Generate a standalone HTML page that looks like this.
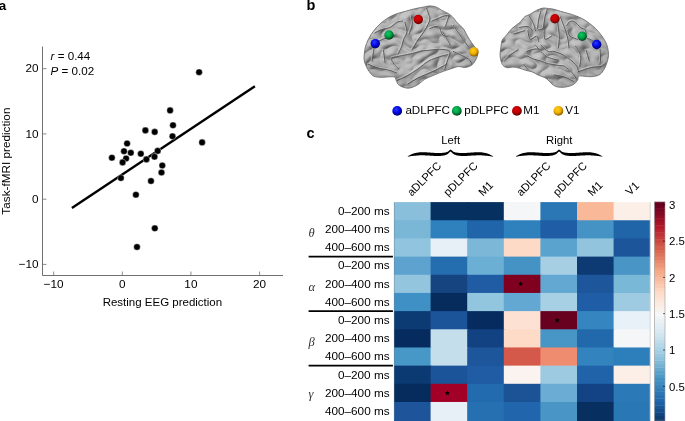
<!DOCTYPE html><html><head><meta charset="utf-8"><style>html,body{margin:0;padding:0;background:#fff;}svg{display:block;will-change:transform;}text{font-family:"Liberation Sans",sans-serif;}</style></head><body>
<svg width="685" height="421" viewBox="0 0 685 421">
<rect width="685" height="421" fill="#fff"/>
<text x="-1.2" y="9.9" font-size="13.4" font-weight="bold">a</text>
<path d="M42.5 46.5V275.5H283" fill="none" stroke="#707070" stroke-width="1"/>
<path d="M42.5 264.4H46.5" stroke="#707070" stroke-width="0.8"/>
<text x="38.6" y="268.1" font-size="11.75" text-anchor="end">−10</text>
<path d="M53.7 271.5V275.5" stroke="#707070" stroke-width="0.8"/>
<text x="53.7" y="288.4" font-size="11.75" text-anchor="middle">−10</text>
<path d="M42.5 199.2H46.5" stroke="#707070" stroke-width="0.8"/>
<text x="38.6" y="202.9" font-size="11.75" text-anchor="end">0</text>
<path d="M122.3 271.5V275.5" stroke="#707070" stroke-width="0.8"/>
<text x="122.3" y="288.4" font-size="11.75" text-anchor="middle">0</text>
<path d="M42.5 133.9H46.5" stroke="#707070" stroke-width="0.8"/>
<text x="38.6" y="137.6" font-size="11.75" text-anchor="end">10</text>
<path d="M190.9 271.5V275.5" stroke="#707070" stroke-width="0.8"/>
<text x="190.9" y="288.4" font-size="11.75" text-anchor="middle">10</text>
<path d="M42.5 68.7H46.5" stroke="#707070" stroke-width="0.8"/>
<text x="38.6" y="72.4" font-size="11.75" text-anchor="end">20</text>
<path d="M259.6 271.5V275.5" stroke="#707070" stroke-width="0.8"/>
<text x="259.6" y="288.4" font-size="11.75" text-anchor="middle">20</text>
<text x="162.4" y="305.6" font-size="11.5" text-anchor="middle">Resting EEG prediction</text>
<text transform="translate(10.1 161.1) rotate(-90)" font-size="11.75" text-anchor="middle">Task-fMRI prediction</text>
<text x="50.6" y="59.6" font-size="11.6"><tspan font-style="italic">r</tspan> = 0.44</text>
<text x="50.6" y="74.6" font-size="11.6"><tspan font-style="italic">P</tspan> = 0.02</text>
<path d="M71.9 208L254.9 86.3" stroke="#000" stroke-width="2.4"/>
<circle cx="199.1" cy="72.2" r="3.3" fill="#000" stroke="#fff" stroke-width="0.4"/>
<circle cx="170.1" cy="110.4" r="3.3" fill="#000" stroke="#fff" stroke-width="0.4"/>
<circle cx="173.0" cy="125.2" r="3.3" fill="#000" stroke="#fff" stroke-width="0.4"/>
<circle cx="172.5" cy="136.3" r="3.3" fill="#000" stroke="#fff" stroke-width="0.4"/>
<circle cx="145.4" cy="130.4" r="3.3" fill="#000" stroke="#fff" stroke-width="0.4"/>
<circle cx="154.7" cy="131.9" r="3.3" fill="#000" stroke="#fff" stroke-width="0.4"/>
<circle cx="127.1" cy="143.5" r="3.3" fill="#000" stroke="#fff" stroke-width="0.4"/>
<circle cx="124.0" cy="151.2" r="3.3" fill="#000" stroke="#fff" stroke-width="0.4"/>
<circle cx="130.8" cy="152.8" r="3.3" fill="#000" stroke="#fff" stroke-width="0.4"/>
<circle cx="140.8" cy="153.8" r="3.3" fill="#000" stroke="#fff" stroke-width="0.4"/>
<circle cx="111.9" cy="157.8" r="3.3" fill="#000" stroke="#fff" stroke-width="0.4"/>
<circle cx="126.1" cy="158.5" r="3.3" fill="#000" stroke="#fff" stroke-width="0.4"/>
<circle cx="122.6" cy="162.4" r="3.3" fill="#000" stroke="#fff" stroke-width="0.4"/>
<circle cx="146.4" cy="159.4" r="3.3" fill="#000" stroke="#fff" stroke-width="0.4"/>
<circle cx="157.7" cy="150.9" r="3.3" fill="#000" stroke="#fff" stroke-width="0.4"/>
<circle cx="154.5" cy="156.7" r="3.3" fill="#000" stroke="#fff" stroke-width="0.4"/>
<circle cx="162.3" cy="165.5" r="3.3" fill="#000" stroke="#fff" stroke-width="0.4"/>
<circle cx="161.5" cy="172.5" r="3.3" fill="#000" stroke="#fff" stroke-width="0.4"/>
<circle cx="151.0" cy="181.0" r="3.3" fill="#000" stroke="#fff" stroke-width="0.4"/>
<circle cx="120.9" cy="178.0" r="3.3" fill="#000" stroke="#fff" stroke-width="0.4"/>
<circle cx="135.9" cy="194.8" r="3.3" fill="#000" stroke="#fff" stroke-width="0.4"/>
<circle cx="154.8" cy="228.3" r="3.3" fill="#000" stroke="#fff" stroke-width="0.4"/>
<circle cx="137.0" cy="247.0" r="3.3" fill="#000" stroke="#fff" stroke-width="0.4"/>
<circle cx="202.1" cy="142.4" r="3.3" fill="#000" stroke="#fff" stroke-width="0.4"/>
<text x="306.5" y="10.2" font-size="14.5" font-weight="bold">b</text>
<defs><radialGradient id="gb" cx="0.35" cy="0.3" r="0.8"><stop offset="0" stop-color="#b4b4b4"/><stop offset="0.6" stop-color="#9c9c9c"/><stop offset="1" stop-color="#8a8a8a"/></radialGradient><radialGradient id="sB" cx="0.42" cy="0.38" r="0.62" fx="0.4" fy="0.34"><stop offset="0" stop-color="#2a3cff"/><stop offset="0.55" stop-color="#0408e6"/><stop offset="1" stop-color="#00006a"/></radialGradient><radialGradient id="sG" cx="0.42" cy="0.38" r="0.62" fx="0.4" fy="0.34"><stop offset="0" stop-color="#10c862"/><stop offset="0.55" stop-color="#00a044"/><stop offset="1" stop-color="#00401a"/></radialGradient><radialGradient id="sR" cx="0.42" cy="0.38" r="0.62" fx="0.4" fy="0.34"><stop offset="0" stop-color="#e00008"/><stop offset="0.55" stop-color="#c00000"/><stop offset="1" stop-color="#5a0000"/></radialGradient><radialGradient id="sY" cx="0.42" cy="0.38" r="0.62" fx="0.4" fy="0.34"><stop offset="0" stop-color="#ffd21a"/><stop offset="0.55" stop-color="#f0b000"/><stop offset="1" stop-color="#8a5a00"/></radialGradient></defs>
<defs><filter id="bl" x="-5%" y="-5%" width="110%" height="110%"><feGaussianBlur stdDeviation="0.4"/></filter><filter id="bl2" x="-5%" y="-5%" width="110%" height="110%"><feGaussianBlur stdDeviation="1.0"/></filter><filter id="tex" x="0" y="0" width="100%" height="100%"><feTurbulence type="turbulence" baseFrequency="0.075 0.1" numOctaves="1" seed="5" result="n"/><feDiffuseLighting in="n" surfaceScale="4" lighting-color="#bebebe" diffuseConstant="1.1" result="l"><feDistantLight azimuth="225" elevation="55"/></feDiffuseLighting><feComposite in="l" in2="SourceGraphic" operator="in"/></filter><radialGradient id="shd" cx="0.45" cy="0.4" r="0.65"><stop offset="0.6" stop-color="#000" stop-opacity="0"/><stop offset="1" stop-color="#000" stop-opacity="0.14"/></radialGradient></defs>
<clipPath id="cL"><path d="M364.1 58.9C363.9 55.8 364.5 51.2 365.2 47.9C365.9 44.6 367.0 42.2 368.4 39.3C369.8 36.4 371.8 33.3 373.8 30.7C375.8 28.1 377.7 26.0 380.2 23.8C382.7 21.6 385.8 19.1 388.7 17.4C391.6 15.7 394.4 14.6 397.3 13.6C400.2 12.6 403.2 11.9 405.9 11.2C408.6 10.4 411.3 9.6 413.3 9.1C415.3 8.6 416.1 8.5 418.0 8.1C419.9 7.7 422.4 7.3 424.4 6.9C426.4 6.5 427.8 5.9 429.8 5.9C431.8 5.9 434.2 6.3 436.2 7.0C438.1 7.7 439.5 9.1 441.5 10.2C443.5 11.3 446.2 12.3 448.0 13.4C449.8 14.5 450.6 15.0 452.2 16.6C453.8 18.2 455.6 20.9 457.6 23.1C459.6 25.3 462.4 27.4 464.0 29.6C465.6 31.8 466.1 34.0 467.4 36.1C468.6 38.2 470.3 40.6 471.5 42.5C472.7 44.4 473.8 45.5 474.8 47.2C475.8 48.9 477.3 50.8 477.6 52.5C477.9 54.2 477.5 55.7 476.8 57.5C476.1 59.3 474.9 61.7 473.6 63.2C472.4 64.7 470.9 65.7 469.3 66.4C467.7 67.1 465.8 67.4 464.0 67.4C462.2 67.4 460.4 66.3 458.6 66.4C456.8 66.5 455.2 67.4 453.3 68.0C451.4 68.6 449.2 69.3 446.9 70.1C444.6 70.9 441.9 71.8 439.4 72.8C436.9 73.8 434.4 74.9 431.9 76.0C429.4 77.1 426.7 78.0 424.4 79.4C422.1 80.8 420.4 83.2 418.0 84.6C415.6 86.0 412.5 87.4 410.1 87.9C407.7 88.4 405.6 88.0 403.7 87.4C401.8 86.9 399.6 85.8 398.4 84.6C397.1 83.4 396.8 81.5 396.2 80.3C395.6 79.1 395.7 77.8 394.6 77.2C393.5 76.6 392.0 76.8 389.8 76.8C387.6 76.8 384.0 77.4 381.3 77.3C378.6 77.2 375.8 77.1 373.8 76.2C371.8 75.3 370.8 73.5 369.5 71.9C368.2 70.3 367.2 68.6 366.3 66.4C365.4 64.2 364.3 62.0 364.1 58.9Z"/></clipPath>
<path d="M364.1 58.9C363.9 55.8 364.5 51.2 365.2 47.9C365.9 44.6 367.0 42.2 368.4 39.3C369.8 36.4 371.8 33.3 373.8 30.7C375.8 28.1 377.7 26.0 380.2 23.8C382.7 21.6 385.8 19.1 388.7 17.4C391.6 15.7 394.4 14.6 397.3 13.6C400.2 12.6 403.2 11.9 405.9 11.2C408.6 10.4 411.3 9.6 413.3 9.1C415.3 8.6 416.1 8.5 418.0 8.1C419.9 7.7 422.4 7.3 424.4 6.9C426.4 6.5 427.8 5.9 429.8 5.9C431.8 5.9 434.2 6.3 436.2 7.0C438.1 7.7 439.5 9.1 441.5 10.2C443.5 11.3 446.2 12.3 448.0 13.4C449.8 14.5 450.6 15.0 452.2 16.6C453.8 18.2 455.6 20.9 457.6 23.1C459.6 25.3 462.4 27.4 464.0 29.6C465.6 31.8 466.1 34.0 467.4 36.1C468.6 38.2 470.3 40.6 471.5 42.5C472.7 44.4 473.8 45.5 474.8 47.2C475.8 48.9 477.3 50.8 477.6 52.5C477.9 54.2 477.5 55.7 476.8 57.5C476.1 59.3 474.9 61.7 473.6 63.2C472.4 64.7 470.9 65.7 469.3 66.4C467.7 67.1 465.8 67.4 464.0 67.4C462.2 67.4 460.4 66.3 458.6 66.4C456.8 66.5 455.2 67.4 453.3 68.0C451.4 68.6 449.2 69.3 446.9 70.1C444.6 70.9 441.9 71.8 439.4 72.8C436.9 73.8 434.4 74.9 431.9 76.0C429.4 77.1 426.7 78.0 424.4 79.4C422.1 80.8 420.4 83.2 418.0 84.6C415.6 86.0 412.5 87.4 410.1 87.9C407.7 88.4 405.6 88.0 403.7 87.4C401.8 86.9 399.6 85.8 398.4 84.6C397.1 83.4 396.8 81.5 396.2 80.3C395.6 79.1 395.7 77.8 394.6 77.2C393.5 76.6 392.0 76.8 389.8 76.8C387.6 76.8 384.0 77.4 381.3 77.3C378.6 77.2 375.8 77.1 373.8 76.2C371.8 75.3 370.8 73.5 369.5 71.9C368.2 70.3 367.2 68.6 366.3 66.4C365.4 64.2 364.3 62.0 364.1 58.9Z" fill="#999" filter="url(#tex)"/>
<g clip-path="url(#cL)" filter="url(#bl2)" fill="none" stroke-linecap="round">
<path d="M392.0 57.8C393.8 57.4 399.2 56.2 402.6 55.5C406.0 54.8 409.1 54.2 412.3 53.5C415.5 52.8 419.3 51.5 422.0 51.0C424.7 50.5 425.8 50.6 428.7 50.3C431.6 50.0 436.2 49.3 439.4 49.3C442.6 49.3 446.2 49.6 448.0 50.3C449.8 51.0 449.8 53.0 450.1 53.6" stroke="#000" stroke-opacity="0.13" stroke-width="3.2" transform="translate(0.5 0.7)"/>
<path d="M390.9 58.9C391.4 59.8 392.9 62.7 394.1 64.3C395.4 65.9 397.7 67.8 398.4 68.5" stroke="#000" stroke-opacity="0.13" stroke-width="3.2" transform="translate(0.5 0.7)"/>
<path d="M397.3 80.3C398.9 79.6 403.4 77.9 406.9 76.0C410.3 74.1 414.4 71.5 418.0 69.0C421.6 66.5 425.1 63.0 428.7 61.0C432.3 59.0 436.2 57.9 439.4 56.8C442.6 55.7 446.6 55.0 448.0 54.6" stroke="#000" stroke-opacity="0.13" stroke-width="3.2" transform="translate(0.5 0.7)"/>
<path d="M408.0 84.0C409.7 83.0 413.7 80.2 418.0 78.0C422.3 75.8 429.2 73.3 434.0 71.0C438.8 68.7 444.8 65.2 446.9 64.0" stroke="#000" stroke-opacity="0.13" stroke-width="3.2" transform="translate(0.5 0.7)"/>
<path d="M368.4 64.3C370.0 64.9 374.6 67.0 378.0 68.0C381.4 69.0 385.7 69.3 388.7 70.1C391.7 70.9 394.9 72.3 396.2 72.8" stroke="#000" stroke-opacity="0.13" stroke-width="3.2" transform="translate(0.5 0.7)"/>
<path d="M373.8 49.3C373.5 51.2 372.5 59.0 372.2 61.0" stroke="#000" stroke-opacity="0.13" stroke-width="3.2" transform="translate(0.5 0.7)"/>
<path d="M383.4 50.3C383.7 52.3 384.7 60.1 385.0 62.1" stroke="#000" stroke-opacity="0.13" stroke-width="3.2" transform="translate(0.5 0.7)"/>
<path d="M374.8 33.0C376.0 32.4 379.5 30.4 382.0 29.5C384.5 28.6 387.2 28.7 389.8 27.5C392.4 26.3 395.2 23.3 397.3 22.2C399.4 21.1 401.7 21.3 402.6 21.1" stroke="#000" stroke-opacity="0.13" stroke-width="3.2" transform="translate(0.5 0.7)"/>
<path d="M404.8 22.2C405.1 23.8 407.1 29.0 406.9 31.8C406.7 34.6 404.6 36.8 403.7 39.3C402.8 41.8 402.6 44.3 401.6 46.8C400.7 49.2 398.6 52.8 398.0 54.0" stroke="#000" stroke-opacity="0.13" stroke-width="3.2" transform="translate(0.5 0.7)"/>
<path d="M426.6 8.3C426.9 9.2 428.0 12.1 428.5 14.0C429.0 15.9 430.4 17.3 429.8 20.0C429.2 22.7 427.0 26.7 425.0 30.0C423.0 33.3 420.2 36.7 418.0 40.0C415.8 43.3 413.0 48.3 412.0 50.0" stroke="#000" stroke-opacity="0.13" stroke-width="3.2" transform="translate(0.5 0.7)"/>
<path d="M431.9 21.1C433.1 20.6 437.3 18.8 439.4 17.9C441.5 17.0 443.1 16.1 444.7 15.8C446.3 15.5 448.3 15.8 449.0 15.8" stroke="#000" stroke-opacity="0.13" stroke-width="3.2" transform="translate(0.5 0.7)"/>
<path d="M449.0 15.8C448.5 17.4 446.5 23.5 445.8 25.4C445.1 27.3 444.9 26.7 444.7 27.0" stroke="#000" stroke-opacity="0.13" stroke-width="3.2" transform="translate(0.5 0.7)"/>
<path d="M429.8 28.6C431.2 28.2 436.2 25.4 438.3 26.5C440.4 27.6 441.0 33.4 442.6 35.0C444.2 36.6 447.1 35.9 448.0 36.1" stroke="#000" stroke-opacity="0.13" stroke-width="3.2" transform="translate(0.5 0.7)"/>
<path d="M453.3 25.4C454.9 27.7 460.4 35.7 462.9 39.3C465.4 42.9 467.4 45.5 468.3 46.8" stroke="#000" stroke-opacity="0.13" stroke-width="3.2" transform="translate(0.5 0.7)"/>
<path d="M442.6 31.8C443.9 33.9 448.9 42.5 450.1 44.6" stroke="#000" stroke-opacity="0.13" stroke-width="3.2" transform="translate(0.5 0.7)"/>
<path d="M450.1 53.6C449.6 55.0 447.9 59.3 447.0 62.0C446.1 64.7 445.1 68.3 444.7 69.6" stroke="#000" stroke-opacity="0.13" stroke-width="3.2" transform="translate(0.5 0.7)"/>
<path d="M453.3 51.4C455.8 52.6 465.3 56.8 468.3 58.9C471.3 61.0 471.0 63.4 471.5 64.3" stroke="#000" stroke-opacity="0.13" stroke-width="3.2" transform="translate(0.5 0.7)"/>
<path d="M377.0 42.0C378.8 41.2 385.0 38.2 388.0 37.0C391.0 35.8 393.8 35.3 395.0 35.0" stroke="#000" stroke-opacity="0.13" stroke-width="3.2" transform="translate(0.5 0.7)"/>
<path d="M411.2 15.8C411.4 17.2 412.6 21.3 412.3 24.3C412.0 27.3 409.6 32.4 409.1 34.0" stroke="#000" stroke-opacity="0.13" stroke-width="3.2" transform="translate(0.5 0.7)"/>
</g>
<g clip-path="url(#cL)" filter="url(#bl)" fill="none" stroke-linecap="round">
<path d="M392.0 57.8C393.8 57.4 399.2 56.2 402.6 55.5C406.0 54.8 409.1 54.2 412.3 53.5C415.5 52.8 419.3 51.5 422.0 51.0C424.7 50.5 425.8 50.6 428.7 50.3C431.6 50.0 436.2 49.3 439.4 49.3C442.6 49.3 446.2 49.6 448.0 50.3C449.8 51.0 449.8 53.0 450.1 53.6" stroke="#dcdcdc" stroke-opacity="0.55" stroke-width="1.5" transform="translate(-0.8 -0.9)"/>
<path d="M390.9 58.9C391.4 59.8 392.9 62.7 394.1 64.3C395.4 65.9 397.7 67.8 398.4 68.5" stroke="#dcdcdc" stroke-opacity="0.55" stroke-width="1.5" transform="translate(-0.8 -0.9)"/>
<path d="M397.3 80.3C398.9 79.6 403.4 77.9 406.9 76.0C410.3 74.1 414.4 71.5 418.0 69.0C421.6 66.5 425.1 63.0 428.7 61.0C432.3 59.0 436.2 57.9 439.4 56.8C442.6 55.7 446.6 55.0 448.0 54.6" stroke="#dcdcdc" stroke-opacity="0.55" stroke-width="1.5" transform="translate(-0.8 -0.9)"/>
<path d="M408.0 84.0C409.7 83.0 413.7 80.2 418.0 78.0C422.3 75.8 429.2 73.3 434.0 71.0C438.8 68.7 444.8 65.2 446.9 64.0" stroke="#dcdcdc" stroke-opacity="0.55" stroke-width="1.5" transform="translate(-0.8 -0.9)"/>
<path d="M368.4 64.3C370.0 64.9 374.6 67.0 378.0 68.0C381.4 69.0 385.7 69.3 388.7 70.1C391.7 70.9 394.9 72.3 396.2 72.8" stroke="#dcdcdc" stroke-opacity="0.55" stroke-width="1.5" transform="translate(-0.8 -0.9)"/>
<path d="M373.8 49.3C373.5 51.2 372.5 59.0 372.2 61.0" stroke="#dcdcdc" stroke-opacity="0.55" stroke-width="1.5" transform="translate(-0.8 -0.9)"/>
<path d="M383.4 50.3C383.7 52.3 384.7 60.1 385.0 62.1" stroke="#dcdcdc" stroke-opacity="0.55" stroke-width="1.5" transform="translate(-0.8 -0.9)"/>
<path d="M374.8 33.0C376.0 32.4 379.5 30.4 382.0 29.5C384.5 28.6 387.2 28.7 389.8 27.5C392.4 26.3 395.2 23.3 397.3 22.2C399.4 21.1 401.7 21.3 402.6 21.1" stroke="#dcdcdc" stroke-opacity="0.55" stroke-width="1.5" transform="translate(-0.8 -0.9)"/>
<path d="M404.8 22.2C405.1 23.8 407.1 29.0 406.9 31.8C406.7 34.6 404.6 36.8 403.7 39.3C402.8 41.8 402.6 44.3 401.6 46.8C400.7 49.2 398.6 52.8 398.0 54.0" stroke="#dcdcdc" stroke-opacity="0.55" stroke-width="1.5" transform="translate(-0.8 -0.9)"/>
<path d="M426.6 8.3C426.9 9.2 428.0 12.1 428.5 14.0C429.0 15.9 430.4 17.3 429.8 20.0C429.2 22.7 427.0 26.7 425.0 30.0C423.0 33.3 420.2 36.7 418.0 40.0C415.8 43.3 413.0 48.3 412.0 50.0" stroke="#dcdcdc" stroke-opacity="0.55" stroke-width="1.5" transform="translate(-0.8 -0.9)"/>
<path d="M431.9 21.1C433.1 20.6 437.3 18.8 439.4 17.9C441.5 17.0 443.1 16.1 444.7 15.8C446.3 15.5 448.3 15.8 449.0 15.8" stroke="#dcdcdc" stroke-opacity="0.55" stroke-width="1.5" transform="translate(-0.8 -0.9)"/>
<path d="M449.0 15.8C448.5 17.4 446.5 23.5 445.8 25.4C445.1 27.3 444.9 26.7 444.7 27.0" stroke="#dcdcdc" stroke-opacity="0.55" stroke-width="1.5" transform="translate(-0.8 -0.9)"/>
<path d="M429.8 28.6C431.2 28.2 436.2 25.4 438.3 26.5C440.4 27.6 441.0 33.4 442.6 35.0C444.2 36.6 447.1 35.9 448.0 36.1" stroke="#dcdcdc" stroke-opacity="0.55" stroke-width="1.5" transform="translate(-0.8 -0.9)"/>
<path d="M453.3 25.4C454.9 27.7 460.4 35.7 462.9 39.3C465.4 42.9 467.4 45.5 468.3 46.8" stroke="#dcdcdc" stroke-opacity="0.55" stroke-width="1.5" transform="translate(-0.8 -0.9)"/>
<path d="M442.6 31.8C443.9 33.9 448.9 42.5 450.1 44.6" stroke="#dcdcdc" stroke-opacity="0.55" stroke-width="1.5" transform="translate(-0.8 -0.9)"/>
<path d="M450.1 53.6C449.6 55.0 447.9 59.3 447.0 62.0C446.1 64.7 445.1 68.3 444.7 69.6" stroke="#dcdcdc" stroke-opacity="0.55" stroke-width="1.5" transform="translate(-0.8 -0.9)"/>
<path d="M453.3 51.4C455.8 52.6 465.3 56.8 468.3 58.9C471.3 61.0 471.0 63.4 471.5 64.3" stroke="#dcdcdc" stroke-opacity="0.55" stroke-width="1.5" transform="translate(-0.8 -0.9)"/>
<path d="M377.0 42.0C378.8 41.2 385.0 38.2 388.0 37.0C391.0 35.8 393.8 35.3 395.0 35.0" stroke="#dcdcdc" stroke-opacity="0.55" stroke-width="1.5" transform="translate(-0.8 -0.9)"/>
<path d="M411.2 15.8C411.4 17.2 412.6 21.3 412.3 24.3C412.0 27.3 409.6 32.4 409.1 34.0" stroke="#dcdcdc" stroke-opacity="0.55" stroke-width="1.5" transform="translate(-0.8 -0.9)"/>
<path d="M392.0 57.8C393.8 57.4 399.2 56.2 402.6 55.5C406.0 54.8 409.1 54.2 412.3 53.5C415.5 52.8 419.3 51.5 422.0 51.0C424.7 50.5 425.8 50.6 428.7 50.3C431.6 50.0 436.2 49.3 439.4 49.3C442.6 49.3 446.2 49.6 448.0 50.3C449.8 51.0 449.8 53.0 450.1 53.6" stroke="#5a5a5a" stroke-width="1.0"/>
<path d="M390.9 58.9C391.4 59.8 392.9 62.7 394.1 64.3C395.4 65.9 397.7 67.8 398.4 68.5" stroke="#5a5a5a" stroke-width="1.0"/>
<path d="M397.3 80.3C398.9 79.6 403.4 77.9 406.9 76.0C410.3 74.1 414.4 71.5 418.0 69.0C421.6 66.5 425.1 63.0 428.7 61.0C432.3 59.0 436.2 57.9 439.4 56.8C442.6 55.7 446.6 55.0 448.0 54.6" stroke="#5a5a5a" stroke-width="1.0"/>
<path d="M408.0 84.0C409.7 83.0 413.7 80.2 418.0 78.0C422.3 75.8 429.2 73.3 434.0 71.0C438.8 68.7 444.8 65.2 446.9 64.0" stroke="#5a5a5a" stroke-width="1.0"/>
<path d="M368.4 64.3C370.0 64.9 374.6 67.0 378.0 68.0C381.4 69.0 385.7 69.3 388.7 70.1C391.7 70.9 394.9 72.3 396.2 72.8" stroke="#5a5a5a" stroke-width="1.0"/>
<path d="M373.8 49.3C373.5 51.2 372.5 59.0 372.2 61.0" stroke="#5a5a5a" stroke-width="1.0"/>
<path d="M383.4 50.3C383.7 52.3 384.7 60.1 385.0 62.1" stroke="#5a5a5a" stroke-width="1.0"/>
<path d="M374.8 33.0C376.0 32.4 379.5 30.4 382.0 29.5C384.5 28.6 387.2 28.7 389.8 27.5C392.4 26.3 395.2 23.3 397.3 22.2C399.4 21.1 401.7 21.3 402.6 21.1" stroke="#5a5a5a" stroke-width="1.0"/>
<path d="M404.8 22.2C405.1 23.8 407.1 29.0 406.9 31.8C406.7 34.6 404.6 36.8 403.7 39.3C402.8 41.8 402.6 44.3 401.6 46.8C400.7 49.2 398.6 52.8 398.0 54.0" stroke="#5a5a5a" stroke-width="1.0"/>
<path d="M426.6 8.3C426.9 9.2 428.0 12.1 428.5 14.0C429.0 15.9 430.4 17.3 429.8 20.0C429.2 22.7 427.0 26.7 425.0 30.0C423.0 33.3 420.2 36.7 418.0 40.0C415.8 43.3 413.0 48.3 412.0 50.0" stroke="#5a5a5a" stroke-width="1.0"/>
<path d="M431.9 21.1C433.1 20.6 437.3 18.8 439.4 17.9C441.5 17.0 443.1 16.1 444.7 15.8C446.3 15.5 448.3 15.8 449.0 15.8" stroke="#5a5a5a" stroke-width="1.0"/>
<path d="M449.0 15.8C448.5 17.4 446.5 23.5 445.8 25.4C445.1 27.3 444.9 26.7 444.7 27.0" stroke="#5a5a5a" stroke-width="1.0"/>
<path d="M429.8 28.6C431.2 28.2 436.2 25.4 438.3 26.5C440.4 27.6 441.0 33.4 442.6 35.0C444.2 36.6 447.1 35.9 448.0 36.1" stroke="#5a5a5a" stroke-width="1.0"/>
<path d="M453.3 25.4C454.9 27.7 460.4 35.7 462.9 39.3C465.4 42.9 467.4 45.5 468.3 46.8" stroke="#5a5a5a" stroke-width="1.0"/>
<path d="M442.6 31.8C443.9 33.9 448.9 42.5 450.1 44.6" stroke="#5a5a5a" stroke-width="1.0"/>
<path d="M450.1 53.6C449.6 55.0 447.9 59.3 447.0 62.0C446.1 64.7 445.1 68.3 444.7 69.6" stroke="#5a5a5a" stroke-width="1.0"/>
<path d="M453.3 51.4C455.8 52.6 465.3 56.8 468.3 58.9C471.3 61.0 471.0 63.4 471.5 64.3" stroke="#5a5a5a" stroke-width="1.0"/>
<path d="M377.0 42.0C378.8 41.2 385.0 38.2 388.0 37.0C391.0 35.8 393.8 35.3 395.0 35.0" stroke="#5a5a5a" stroke-width="1.0"/>
<path d="M411.2 15.8C411.4 17.2 412.6 21.3 412.3 24.3C412.0 27.3 409.6 32.4 409.1 34.0" stroke="#5a5a5a" stroke-width="1.0"/>
</g>
<path d="M364.1 58.9C363.9 55.8 364.5 51.2 365.2 47.9C365.9 44.6 367.0 42.2 368.4 39.3C369.8 36.4 371.8 33.3 373.8 30.7C375.8 28.1 377.7 26.0 380.2 23.8C382.7 21.6 385.8 19.1 388.7 17.4C391.6 15.7 394.4 14.6 397.3 13.6C400.2 12.6 403.2 11.9 405.9 11.2C408.6 10.4 411.3 9.6 413.3 9.1C415.3 8.6 416.1 8.5 418.0 8.1C419.9 7.7 422.4 7.3 424.4 6.9C426.4 6.5 427.8 5.9 429.8 5.9C431.8 5.9 434.2 6.3 436.2 7.0C438.1 7.7 439.5 9.1 441.5 10.2C443.5 11.3 446.2 12.3 448.0 13.4C449.8 14.5 450.6 15.0 452.2 16.6C453.8 18.2 455.6 20.9 457.6 23.1C459.6 25.3 462.4 27.4 464.0 29.6C465.6 31.8 466.1 34.0 467.4 36.1C468.6 38.2 470.3 40.6 471.5 42.5C472.7 44.4 473.8 45.5 474.8 47.2C475.8 48.9 477.3 50.8 477.6 52.5C477.9 54.2 477.5 55.7 476.8 57.5C476.1 59.3 474.9 61.7 473.6 63.2C472.4 64.7 470.9 65.7 469.3 66.4C467.7 67.1 465.8 67.4 464.0 67.4C462.2 67.4 460.4 66.3 458.6 66.4C456.8 66.5 455.2 67.4 453.3 68.0C451.4 68.6 449.2 69.3 446.9 70.1C444.6 70.9 441.9 71.8 439.4 72.8C436.9 73.8 434.4 74.9 431.9 76.0C429.4 77.1 426.7 78.0 424.4 79.4C422.1 80.8 420.4 83.2 418.0 84.6C415.6 86.0 412.5 87.4 410.1 87.9C407.7 88.4 405.6 88.0 403.7 87.4C401.8 86.9 399.6 85.8 398.4 84.6C397.1 83.4 396.8 81.5 396.2 80.3C395.6 79.1 395.7 77.8 394.6 77.2C393.5 76.6 392.0 76.8 389.8 76.8C387.6 76.8 384.0 77.4 381.3 77.3C378.6 77.2 375.8 77.1 373.8 76.2C371.8 75.3 370.8 73.5 369.5 71.9C368.2 70.3 367.2 68.6 366.3 66.4C365.4 64.2 364.3 62.0 364.1 58.9Z" fill="url(#shd)"/>
<path d="M364.1 58.9C363.9 55.8 364.5 51.2 365.2 47.9C365.9 44.6 367.0 42.2 368.4 39.3C369.8 36.4 371.8 33.3 373.8 30.7C375.8 28.1 377.7 26.0 380.2 23.8C382.7 21.6 385.8 19.1 388.7 17.4C391.6 15.7 394.4 14.6 397.3 13.6C400.2 12.6 403.2 11.9 405.9 11.2C408.6 10.4 411.3 9.6 413.3 9.1C415.3 8.6 416.1 8.5 418.0 8.1C419.9 7.7 422.4 7.3 424.4 6.9C426.4 6.5 427.8 5.9 429.8 5.9C431.8 5.9 434.2 6.3 436.2 7.0C438.1 7.7 439.5 9.1 441.5 10.2C443.5 11.3 446.2 12.3 448.0 13.4C449.8 14.5 450.6 15.0 452.2 16.6C453.8 18.2 455.6 20.9 457.6 23.1C459.6 25.3 462.4 27.4 464.0 29.6C465.6 31.8 466.1 34.0 467.4 36.1C468.6 38.2 470.3 40.6 471.5 42.5C472.7 44.4 473.8 45.5 474.8 47.2C475.8 48.9 477.3 50.8 477.6 52.5C477.9 54.2 477.5 55.7 476.8 57.5C476.1 59.3 474.9 61.7 473.6 63.2C472.4 64.7 470.9 65.7 469.3 66.4C467.7 67.1 465.8 67.4 464.0 67.4C462.2 67.4 460.4 66.3 458.6 66.4C456.8 66.5 455.2 67.4 453.3 68.0C451.4 68.6 449.2 69.3 446.9 70.1C444.6 70.9 441.9 71.8 439.4 72.8C436.9 73.8 434.4 74.9 431.9 76.0C429.4 77.1 426.7 78.0 424.4 79.4C422.1 80.8 420.4 83.2 418.0 84.6C415.6 86.0 412.5 87.4 410.1 87.9C407.7 88.4 405.6 88.0 403.7 87.4C401.8 86.9 399.6 85.8 398.4 84.6C397.1 83.4 396.8 81.5 396.2 80.3C395.6 79.1 395.7 77.8 394.6 77.2C393.5 76.6 392.0 76.8 389.8 76.8C387.6 76.8 384.0 77.4 381.3 77.3C378.6 77.2 375.8 77.1 373.8 76.2C371.8 75.3 370.8 73.5 369.5 71.9C368.2 70.3 367.2 68.6 366.3 66.4C365.4 64.2 364.3 62.0 364.1 58.9Z" fill="none" stroke="#6e6e6e" stroke-width="0.9"/>
<clipPath id="cR"><path d="M500.1 55.7C499.9 52.5 500.8 47.6 501.2 45.0C501.6 42.4 501.4 41.7 502.3 40.0C503.2 38.3 505.0 36.9 506.6 35.0C508.2 33.1 509.8 30.5 511.9 28.5C514.0 26.5 517.3 24.8 519.4 22.8C521.5 20.9 522.9 18.2 524.7 16.8C526.5 15.4 528.1 15.3 530.1 14.2C532.1 13.1 534.4 11.4 536.5 10.4C538.6 9.4 540.9 8.4 542.9 8.1C544.9 7.8 546.4 8.3 548.3 8.5C550.1 8.7 552.0 8.8 554.0 9.3C556.0 9.8 558.3 10.7 560.4 11.3C562.5 11.9 564.3 12.3 566.8 13.0C569.3 13.7 572.7 14.7 575.4 15.7C578.1 16.7 580.6 17.7 582.9 19.0C585.2 20.3 587.2 21.7 589.3 23.3C591.4 24.9 593.7 26.7 595.7 28.6C597.7 30.6 599.5 32.9 601.1 35.0C602.7 37.1 604.2 39.3 605.3 41.4C606.4 43.5 607.1 45.1 607.6 47.5C608.1 49.9 608.7 52.9 608.5 55.7C608.3 58.5 607.3 61.8 606.4 64.3C605.5 66.8 604.5 68.9 603.2 70.7C602.0 72.5 600.9 74.0 598.9 75.0C596.9 76.0 593.9 76.5 591.4 76.7C588.9 76.9 586.1 76.3 584.0 76.2C581.9 76.1 579.7 75.5 578.6 76.2C577.5 76.9 578.4 78.9 577.5 80.3C576.6 81.7 575.1 83.5 573.3 84.6C571.5 85.7 568.9 86.3 566.8 86.8C564.6 87.2 562.5 87.5 560.4 87.3C558.3 87.1 556.4 87.1 554.0 85.6C551.6 84.1 548.7 80.1 546.1 78.4C543.5 76.7 540.9 76.3 538.6 75.2C536.3 74.1 534.3 72.7 532.2 71.9C530.1 71.1 527.9 70.9 525.8 70.3C523.7 69.7 521.4 68.7 519.4 68.2C517.4 67.7 516.1 67.2 514.0 67.1C511.9 67.0 508.6 68.1 506.6 67.6C504.7 67.1 503.4 66.3 502.3 64.3C501.2 62.3 500.3 58.9 500.1 55.7Z"/></clipPath>
<path d="M500.1 55.7C499.9 52.5 500.8 47.6 501.2 45.0C501.6 42.4 501.4 41.7 502.3 40.0C503.2 38.3 505.0 36.9 506.6 35.0C508.2 33.1 509.8 30.5 511.9 28.5C514.0 26.5 517.3 24.8 519.4 22.8C521.5 20.9 522.9 18.2 524.7 16.8C526.5 15.4 528.1 15.3 530.1 14.2C532.1 13.1 534.4 11.4 536.5 10.4C538.6 9.4 540.9 8.4 542.9 8.1C544.9 7.8 546.4 8.3 548.3 8.5C550.1 8.7 552.0 8.8 554.0 9.3C556.0 9.8 558.3 10.7 560.4 11.3C562.5 11.9 564.3 12.3 566.8 13.0C569.3 13.7 572.7 14.7 575.4 15.7C578.1 16.7 580.6 17.7 582.9 19.0C585.2 20.3 587.2 21.7 589.3 23.3C591.4 24.9 593.7 26.7 595.7 28.6C597.7 30.6 599.5 32.9 601.1 35.0C602.7 37.1 604.2 39.3 605.3 41.4C606.4 43.5 607.1 45.1 607.6 47.5C608.1 49.9 608.7 52.9 608.5 55.7C608.3 58.5 607.3 61.8 606.4 64.3C605.5 66.8 604.5 68.9 603.2 70.7C602.0 72.5 600.9 74.0 598.9 75.0C596.9 76.0 593.9 76.5 591.4 76.7C588.9 76.9 586.1 76.3 584.0 76.2C581.9 76.1 579.7 75.5 578.6 76.2C577.5 76.9 578.4 78.9 577.5 80.3C576.6 81.7 575.1 83.5 573.3 84.6C571.5 85.7 568.9 86.3 566.8 86.8C564.6 87.2 562.5 87.5 560.4 87.3C558.3 87.1 556.4 87.1 554.0 85.6C551.6 84.1 548.7 80.1 546.1 78.4C543.5 76.7 540.9 76.3 538.6 75.2C536.3 74.1 534.3 72.7 532.2 71.9C530.1 71.1 527.9 70.9 525.8 70.3C523.7 69.7 521.4 68.7 519.4 68.2C517.4 67.7 516.1 67.2 514.0 67.1C511.9 67.0 508.6 68.1 506.6 67.6C504.7 67.1 503.4 66.3 502.3 64.3C501.2 62.3 500.3 58.9 500.1 55.7Z" fill="#999" filter="url(#tex)"/>
<g clip-path="url(#cR)" filter="url(#bl2)" fill="none" stroke-linecap="round">
<path d="M526.9 55.7C528.0 56.2 531.0 58.0 533.3 58.9C535.6 59.8 538.3 60.2 540.8 61.0C543.3 61.8 545.4 63.0 548.3 63.7C551.2 64.4 555.3 64.8 558.0 65.3C560.7 65.8 562.3 65.2 564.7 66.4C567.1 67.7 570.2 70.7 572.2 72.8C574.2 74.9 575.8 78.1 576.5 79.2" stroke="#000" stroke-opacity="0.13" stroke-width="3.2" transform="translate(0.5 0.7)"/>
<path d="M526.9 51.4C527.4 51.2 528.8 50.7 530.1 50.3C531.5 49.9 533.2 49.2 535.0 49.0C536.8 48.8 539.8 49.2 540.8 49.3" stroke="#000" stroke-opacity="0.13" stroke-width="3.2" transform="translate(0.5 0.7)"/>
<path d="M535.4 45.0C536.6 46.4 540.6 51.5 542.9 53.6C545.2 55.7 546.8 56.7 549.3 57.8C551.8 58.9 556.5 59.6 558.0 60.0" stroke="#000" stroke-opacity="0.13" stroke-width="3.2" transform="translate(0.5 0.7)"/>
<path d="M540.8 45.0C542.0 46.1 546.1 50.3 548.3 51.4C550.5 52.5 551.3 50.7 554.0 51.4C556.7 52.1 561.1 53.6 564.7 55.7C568.3 57.9 573.1 61.6 575.4 64.3C577.7 67.0 578.1 70.5 578.6 71.7" stroke="#000" stroke-opacity="0.13" stroke-width="3.2" transform="translate(0.5 0.7)"/>
<path d="M523.7 64.3C524.4 65.2 527.3 68.7 528.0 69.6" stroke="#000" stroke-opacity="0.13" stroke-width="3.2" transform="translate(0.5 0.7)"/>
<path d="M554.0 75.0C555.8 75.3 561.5 76.0 564.7 77.1C567.9 78.2 571.9 80.7 573.3 81.4" stroke="#000" stroke-opacity="0.13" stroke-width="3.2" transform="translate(0.5 0.7)"/>
<path d="M578.6 71.7C580.7 71.0 587.6 68.4 591.4 67.5C595.1 66.6 598.8 67.1 601.1 66.4C603.4 65.7 604.6 63.7 605.3 63.2" stroke="#000" stroke-opacity="0.13" stroke-width="3.2" transform="translate(0.5 0.7)"/>
<path d="M600.0 49.3C600.1 50.6 600.5 54.5 600.5 57.0C600.5 59.5 600.1 63.1 600.0 64.3" stroke="#000" stroke-opacity="0.13" stroke-width="3.2" transform="translate(0.5 0.7)"/>
<path d="M586.1 50.3C586.6 52.1 588.8 59.2 589.3 61.0" stroke="#000" stroke-opacity="0.13" stroke-width="3.2" transform="translate(0.5 0.7)"/>
<path d="M575.4 46.1C576.3 47.7 580.0 52.3 580.7 55.7C581.4 59.1 579.9 64.6 579.7 66.4" stroke="#000" stroke-opacity="0.13" stroke-width="3.2" transform="translate(0.5 0.7)"/>
<path d="M547.2 9.3C546.9 10.6 545.6 14.5 545.1 16.8C544.6 19.1 544.4 21.3 544.0 23.3C543.6 25.3 543.8 27.5 542.9 28.6C542.0 29.7 539.3 29.5 538.6 29.7" stroke="#000" stroke-opacity="0.13" stroke-width="3.2" transform="translate(0.5 0.7)"/>
<path d="M540.8 11.5C540.4 12.9 539.1 17.1 538.6 20.0C538.1 22.9 537.8 27.2 537.6 28.6" stroke="#000" stroke-opacity="0.13" stroke-width="3.2" transform="translate(0.5 0.7)"/>
<path d="M529.0 15.8C529.7 17.1 532.2 20.8 533.3 23.3C534.4 25.8 535.0 29.5 535.4 30.7" stroke="#000" stroke-opacity="0.13" stroke-width="3.2" transform="translate(0.5 0.7)"/>
<path d="M519.4 27.5C520.8 27.3 525.9 26.0 528.0 26.5C530.1 27.0 531.5 30.0 532.2 30.7" stroke="#000" stroke-opacity="0.13" stroke-width="3.2" transform="translate(0.5 0.7)"/>
<path d="M514.0 34.0C515.8 33.5 522.9 31.2 524.7 30.7" stroke="#000" stroke-opacity="0.13" stroke-width="3.2" transform="translate(0.5 0.7)"/>
<path d="M527.9 30.7C528.3 32.1 528.7 38.4 530.1 39.3C531.5 40.2 535.1 35.8 536.5 36.1C537.9 36.5 538.2 40.5 538.6 41.4" stroke="#000" stroke-opacity="0.13" stroke-width="3.2" transform="translate(0.5 0.7)"/>
<path d="M544.0 31.8C544.2 33.0 543.9 38.6 545.1 39.3C546.4 40.0 550.4 36.6 551.5 36.1" stroke="#000" stroke-opacity="0.13" stroke-width="3.2" transform="translate(0.5 0.7)"/>
<path d="M508.7 55.7C510.1 54.8 515.9 51.2 517.3 50.3" stroke="#000" stroke-opacity="0.13" stroke-width="3.2" transform="translate(0.5 0.7)"/>
<path d="M504.4 61.0C505.1 60.3 508.0 57.5 508.7 56.8" stroke="#000" stroke-opacity="0.13" stroke-width="3.2" transform="translate(0.5 0.7)"/>
<path d="M560.4 16.8C560.9 18.2 562.7 22.9 563.6 25.4C564.5 27.9 565.1 29.5 565.8 31.8C566.5 34.1 567.4 36.6 567.9 39.3C568.4 42.0 568.8 46.5 569.0 47.9" stroke="#000" stroke-opacity="0.13" stroke-width="3.2" transform="translate(0.5 0.7)"/>
<path d="M566.8 25.4C567.3 24.8 568.8 22.2 570.0 21.6C571.2 21.0 572.5 20.6 574.3 21.6C576.1 22.6 578.9 26.1 580.7 27.5C582.5 28.9 584.1 28.6 585.0 29.7C585.9 30.8 585.9 33.3 586.1 34.0" stroke="#000" stroke-opacity="0.13" stroke-width="3.2" transform="translate(0.5 0.7)"/>
<path d="M567.9 30.7C568.2 31.6 568.4 34.7 570.0 36.1C571.6 37.5 576.2 38.8 577.5 39.3" stroke="#000" stroke-opacity="0.13" stroke-width="3.2" transform="translate(0.5 0.7)"/>
<path d="M587.2 38.2C588.1 38.6 591.6 40.0 592.5 40.4" stroke="#000" stroke-opacity="0.13" stroke-width="3.2" transform="translate(0.5 0.7)"/>
<path d="M557.2 20.0C557.6 22.7 559.1 31.5 559.3 36.1C559.5 40.8 558.5 45.9 558.3 47.9" stroke="#000" stroke-opacity="0.13" stroke-width="3.2" transform="translate(0.5 0.7)"/>
</g>
<g clip-path="url(#cR)" filter="url(#bl)" fill="none" stroke-linecap="round">
<path d="M526.9 55.7C528.0 56.2 531.0 58.0 533.3 58.9C535.6 59.8 538.3 60.2 540.8 61.0C543.3 61.8 545.4 63.0 548.3 63.7C551.2 64.4 555.3 64.8 558.0 65.3C560.7 65.8 562.3 65.2 564.7 66.4C567.1 67.7 570.2 70.7 572.2 72.8C574.2 74.9 575.8 78.1 576.5 79.2" stroke="#dcdcdc" stroke-opacity="0.55" stroke-width="1.5" transform="translate(-0.8 -0.9)"/>
<path d="M526.9 51.4C527.4 51.2 528.8 50.7 530.1 50.3C531.5 49.9 533.2 49.2 535.0 49.0C536.8 48.8 539.8 49.2 540.8 49.3" stroke="#dcdcdc" stroke-opacity="0.55" stroke-width="1.5" transform="translate(-0.8 -0.9)"/>
<path d="M535.4 45.0C536.6 46.4 540.6 51.5 542.9 53.6C545.2 55.7 546.8 56.7 549.3 57.8C551.8 58.9 556.5 59.6 558.0 60.0" stroke="#dcdcdc" stroke-opacity="0.55" stroke-width="1.5" transform="translate(-0.8 -0.9)"/>
<path d="M540.8 45.0C542.0 46.1 546.1 50.3 548.3 51.4C550.5 52.5 551.3 50.7 554.0 51.4C556.7 52.1 561.1 53.6 564.7 55.7C568.3 57.9 573.1 61.6 575.4 64.3C577.7 67.0 578.1 70.5 578.6 71.7" stroke="#dcdcdc" stroke-opacity="0.55" stroke-width="1.5" transform="translate(-0.8 -0.9)"/>
<path d="M523.7 64.3C524.4 65.2 527.3 68.7 528.0 69.6" stroke="#dcdcdc" stroke-opacity="0.55" stroke-width="1.5" transform="translate(-0.8 -0.9)"/>
<path d="M554.0 75.0C555.8 75.3 561.5 76.0 564.7 77.1C567.9 78.2 571.9 80.7 573.3 81.4" stroke="#dcdcdc" stroke-opacity="0.55" stroke-width="1.5" transform="translate(-0.8 -0.9)"/>
<path d="M578.6 71.7C580.7 71.0 587.6 68.4 591.4 67.5C595.1 66.6 598.8 67.1 601.1 66.4C603.4 65.7 604.6 63.7 605.3 63.2" stroke="#dcdcdc" stroke-opacity="0.55" stroke-width="1.5" transform="translate(-0.8 -0.9)"/>
<path d="M600.0 49.3C600.1 50.6 600.5 54.5 600.5 57.0C600.5 59.5 600.1 63.1 600.0 64.3" stroke="#dcdcdc" stroke-opacity="0.55" stroke-width="1.5" transform="translate(-0.8 -0.9)"/>
<path d="M586.1 50.3C586.6 52.1 588.8 59.2 589.3 61.0" stroke="#dcdcdc" stroke-opacity="0.55" stroke-width="1.5" transform="translate(-0.8 -0.9)"/>
<path d="M575.4 46.1C576.3 47.7 580.0 52.3 580.7 55.7C581.4 59.1 579.9 64.6 579.7 66.4" stroke="#dcdcdc" stroke-opacity="0.55" stroke-width="1.5" transform="translate(-0.8 -0.9)"/>
<path d="M547.2 9.3C546.9 10.6 545.6 14.5 545.1 16.8C544.6 19.1 544.4 21.3 544.0 23.3C543.6 25.3 543.8 27.5 542.9 28.6C542.0 29.7 539.3 29.5 538.6 29.7" stroke="#dcdcdc" stroke-opacity="0.55" stroke-width="1.5" transform="translate(-0.8 -0.9)"/>
<path d="M540.8 11.5C540.4 12.9 539.1 17.1 538.6 20.0C538.1 22.9 537.8 27.2 537.6 28.6" stroke="#dcdcdc" stroke-opacity="0.55" stroke-width="1.5" transform="translate(-0.8 -0.9)"/>
<path d="M529.0 15.8C529.7 17.1 532.2 20.8 533.3 23.3C534.4 25.8 535.0 29.5 535.4 30.7" stroke="#dcdcdc" stroke-opacity="0.55" stroke-width="1.5" transform="translate(-0.8 -0.9)"/>
<path d="M519.4 27.5C520.8 27.3 525.9 26.0 528.0 26.5C530.1 27.0 531.5 30.0 532.2 30.7" stroke="#dcdcdc" stroke-opacity="0.55" stroke-width="1.5" transform="translate(-0.8 -0.9)"/>
<path d="M514.0 34.0C515.8 33.5 522.9 31.2 524.7 30.7" stroke="#dcdcdc" stroke-opacity="0.55" stroke-width="1.5" transform="translate(-0.8 -0.9)"/>
<path d="M527.9 30.7C528.3 32.1 528.7 38.4 530.1 39.3C531.5 40.2 535.1 35.8 536.5 36.1C537.9 36.5 538.2 40.5 538.6 41.4" stroke="#dcdcdc" stroke-opacity="0.55" stroke-width="1.5" transform="translate(-0.8 -0.9)"/>
<path d="M544.0 31.8C544.2 33.0 543.9 38.6 545.1 39.3C546.4 40.0 550.4 36.6 551.5 36.1" stroke="#dcdcdc" stroke-opacity="0.55" stroke-width="1.5" transform="translate(-0.8 -0.9)"/>
<path d="M508.7 55.7C510.1 54.8 515.9 51.2 517.3 50.3" stroke="#dcdcdc" stroke-opacity="0.55" stroke-width="1.5" transform="translate(-0.8 -0.9)"/>
<path d="M504.4 61.0C505.1 60.3 508.0 57.5 508.7 56.8" stroke="#dcdcdc" stroke-opacity="0.55" stroke-width="1.5" transform="translate(-0.8 -0.9)"/>
<path d="M560.4 16.8C560.9 18.2 562.7 22.9 563.6 25.4C564.5 27.9 565.1 29.5 565.8 31.8C566.5 34.1 567.4 36.6 567.9 39.3C568.4 42.0 568.8 46.5 569.0 47.9" stroke="#dcdcdc" stroke-opacity="0.55" stroke-width="1.5" transform="translate(-0.8 -0.9)"/>
<path d="M566.8 25.4C567.3 24.8 568.8 22.2 570.0 21.6C571.2 21.0 572.5 20.6 574.3 21.6C576.1 22.6 578.9 26.1 580.7 27.5C582.5 28.9 584.1 28.6 585.0 29.7C585.9 30.8 585.9 33.3 586.1 34.0" stroke="#dcdcdc" stroke-opacity="0.55" stroke-width="1.5" transform="translate(-0.8 -0.9)"/>
<path d="M567.9 30.7C568.2 31.6 568.4 34.7 570.0 36.1C571.6 37.5 576.2 38.8 577.5 39.3" stroke="#dcdcdc" stroke-opacity="0.55" stroke-width="1.5" transform="translate(-0.8 -0.9)"/>
<path d="M587.2 38.2C588.1 38.6 591.6 40.0 592.5 40.4" stroke="#dcdcdc" stroke-opacity="0.55" stroke-width="1.5" transform="translate(-0.8 -0.9)"/>
<path d="M557.2 20.0C557.6 22.7 559.1 31.5 559.3 36.1C559.5 40.8 558.5 45.9 558.3 47.9" stroke="#dcdcdc" stroke-opacity="0.55" stroke-width="1.5" transform="translate(-0.8 -0.9)"/>
<path d="M526.9 55.7C528.0 56.2 531.0 58.0 533.3 58.9C535.6 59.8 538.3 60.2 540.8 61.0C543.3 61.8 545.4 63.0 548.3 63.7C551.2 64.4 555.3 64.8 558.0 65.3C560.7 65.8 562.3 65.2 564.7 66.4C567.1 67.7 570.2 70.7 572.2 72.8C574.2 74.9 575.8 78.1 576.5 79.2" stroke="#5a5a5a" stroke-width="1.0"/>
<path d="M526.9 51.4C527.4 51.2 528.8 50.7 530.1 50.3C531.5 49.9 533.2 49.2 535.0 49.0C536.8 48.8 539.8 49.2 540.8 49.3" stroke="#5a5a5a" stroke-width="1.0"/>
<path d="M535.4 45.0C536.6 46.4 540.6 51.5 542.9 53.6C545.2 55.7 546.8 56.7 549.3 57.8C551.8 58.9 556.5 59.6 558.0 60.0" stroke="#5a5a5a" stroke-width="1.0"/>
<path d="M540.8 45.0C542.0 46.1 546.1 50.3 548.3 51.4C550.5 52.5 551.3 50.7 554.0 51.4C556.7 52.1 561.1 53.6 564.7 55.7C568.3 57.9 573.1 61.6 575.4 64.3C577.7 67.0 578.1 70.5 578.6 71.7" stroke="#5a5a5a" stroke-width="1.0"/>
<path d="M523.7 64.3C524.4 65.2 527.3 68.7 528.0 69.6" stroke="#5a5a5a" stroke-width="1.0"/>
<path d="M554.0 75.0C555.8 75.3 561.5 76.0 564.7 77.1C567.9 78.2 571.9 80.7 573.3 81.4" stroke="#5a5a5a" stroke-width="1.0"/>
<path d="M578.6 71.7C580.7 71.0 587.6 68.4 591.4 67.5C595.1 66.6 598.8 67.1 601.1 66.4C603.4 65.7 604.6 63.7 605.3 63.2" stroke="#5a5a5a" stroke-width="1.0"/>
<path d="M600.0 49.3C600.1 50.6 600.5 54.5 600.5 57.0C600.5 59.5 600.1 63.1 600.0 64.3" stroke="#5a5a5a" stroke-width="1.0"/>
<path d="M586.1 50.3C586.6 52.1 588.8 59.2 589.3 61.0" stroke="#5a5a5a" stroke-width="1.0"/>
<path d="M575.4 46.1C576.3 47.7 580.0 52.3 580.7 55.7C581.4 59.1 579.9 64.6 579.7 66.4" stroke="#5a5a5a" stroke-width="1.0"/>
<path d="M547.2 9.3C546.9 10.6 545.6 14.5 545.1 16.8C544.6 19.1 544.4 21.3 544.0 23.3C543.6 25.3 543.8 27.5 542.9 28.6C542.0 29.7 539.3 29.5 538.6 29.7" stroke="#5a5a5a" stroke-width="1.0"/>
<path d="M540.8 11.5C540.4 12.9 539.1 17.1 538.6 20.0C538.1 22.9 537.8 27.2 537.6 28.6" stroke="#5a5a5a" stroke-width="1.0"/>
<path d="M529.0 15.8C529.7 17.1 532.2 20.8 533.3 23.3C534.4 25.8 535.0 29.5 535.4 30.7" stroke="#5a5a5a" stroke-width="1.0"/>
<path d="M519.4 27.5C520.8 27.3 525.9 26.0 528.0 26.5C530.1 27.0 531.5 30.0 532.2 30.7" stroke="#5a5a5a" stroke-width="1.0"/>
<path d="M514.0 34.0C515.8 33.5 522.9 31.2 524.7 30.7" stroke="#5a5a5a" stroke-width="1.0"/>
<path d="M527.9 30.7C528.3 32.1 528.7 38.4 530.1 39.3C531.5 40.2 535.1 35.8 536.5 36.1C537.9 36.5 538.2 40.5 538.6 41.4" stroke="#5a5a5a" stroke-width="1.0"/>
<path d="M544.0 31.8C544.2 33.0 543.9 38.6 545.1 39.3C546.4 40.0 550.4 36.6 551.5 36.1" stroke="#5a5a5a" stroke-width="1.0"/>
<path d="M508.7 55.7C510.1 54.8 515.9 51.2 517.3 50.3" stroke="#5a5a5a" stroke-width="1.0"/>
<path d="M504.4 61.0C505.1 60.3 508.0 57.5 508.7 56.8" stroke="#5a5a5a" stroke-width="1.0"/>
<path d="M560.4 16.8C560.9 18.2 562.7 22.9 563.6 25.4C564.5 27.9 565.1 29.5 565.8 31.8C566.5 34.1 567.4 36.6 567.9 39.3C568.4 42.0 568.8 46.5 569.0 47.9" stroke="#5a5a5a" stroke-width="1.0"/>
<path d="M566.8 25.4C567.3 24.8 568.8 22.2 570.0 21.6C571.2 21.0 572.5 20.6 574.3 21.6C576.1 22.6 578.9 26.1 580.7 27.5C582.5 28.9 584.1 28.6 585.0 29.7C585.9 30.8 585.9 33.3 586.1 34.0" stroke="#5a5a5a" stroke-width="1.0"/>
<path d="M567.9 30.7C568.2 31.6 568.4 34.7 570.0 36.1C571.6 37.5 576.2 38.8 577.5 39.3" stroke="#5a5a5a" stroke-width="1.0"/>
<path d="M587.2 38.2C588.1 38.6 591.6 40.0 592.5 40.4" stroke="#5a5a5a" stroke-width="1.0"/>
<path d="M557.2 20.0C557.6 22.7 559.1 31.5 559.3 36.1C559.5 40.8 558.5 45.9 558.3 47.9" stroke="#5a5a5a" stroke-width="1.0"/>
</g>
<path d="M500.1 55.7C499.9 52.5 500.8 47.6 501.2 45.0C501.6 42.4 501.4 41.7 502.3 40.0C503.2 38.3 505.0 36.9 506.6 35.0C508.2 33.1 509.8 30.5 511.9 28.5C514.0 26.5 517.3 24.8 519.4 22.8C521.5 20.9 522.9 18.2 524.7 16.8C526.5 15.4 528.1 15.3 530.1 14.2C532.1 13.1 534.4 11.4 536.5 10.4C538.6 9.4 540.9 8.4 542.9 8.1C544.9 7.8 546.4 8.3 548.3 8.5C550.1 8.7 552.0 8.8 554.0 9.3C556.0 9.8 558.3 10.7 560.4 11.3C562.5 11.9 564.3 12.3 566.8 13.0C569.3 13.7 572.7 14.7 575.4 15.7C578.1 16.7 580.6 17.7 582.9 19.0C585.2 20.3 587.2 21.7 589.3 23.3C591.4 24.9 593.7 26.7 595.7 28.6C597.7 30.6 599.5 32.9 601.1 35.0C602.7 37.1 604.2 39.3 605.3 41.4C606.4 43.5 607.1 45.1 607.6 47.5C608.1 49.9 608.7 52.9 608.5 55.7C608.3 58.5 607.3 61.8 606.4 64.3C605.5 66.8 604.5 68.9 603.2 70.7C602.0 72.5 600.9 74.0 598.9 75.0C596.9 76.0 593.9 76.5 591.4 76.7C588.9 76.9 586.1 76.3 584.0 76.2C581.9 76.1 579.7 75.5 578.6 76.2C577.5 76.9 578.4 78.9 577.5 80.3C576.6 81.7 575.1 83.5 573.3 84.6C571.5 85.7 568.9 86.3 566.8 86.8C564.6 87.2 562.5 87.5 560.4 87.3C558.3 87.1 556.4 87.1 554.0 85.6C551.6 84.1 548.7 80.1 546.1 78.4C543.5 76.7 540.9 76.3 538.6 75.2C536.3 74.1 534.3 72.7 532.2 71.9C530.1 71.1 527.9 70.9 525.8 70.3C523.7 69.7 521.4 68.7 519.4 68.2C517.4 67.7 516.1 67.2 514.0 67.1C511.9 67.0 508.6 68.1 506.6 67.6C504.7 67.1 503.4 66.3 502.3 64.3C501.2 62.3 500.3 58.9 500.1 55.7Z" fill="url(#shd)"/>
<path d="M500.1 55.7C499.9 52.5 500.8 47.6 501.2 45.0C501.6 42.4 501.4 41.7 502.3 40.0C503.2 38.3 505.0 36.9 506.6 35.0C508.2 33.1 509.8 30.5 511.9 28.5C514.0 26.5 517.3 24.8 519.4 22.8C521.5 20.9 522.9 18.2 524.7 16.8C526.5 15.4 528.1 15.3 530.1 14.2C532.1 13.1 534.4 11.4 536.5 10.4C538.6 9.4 540.9 8.4 542.9 8.1C544.9 7.8 546.4 8.3 548.3 8.5C550.1 8.7 552.0 8.8 554.0 9.3C556.0 9.8 558.3 10.7 560.4 11.3C562.5 11.9 564.3 12.3 566.8 13.0C569.3 13.7 572.7 14.7 575.4 15.7C578.1 16.7 580.6 17.7 582.9 19.0C585.2 20.3 587.2 21.7 589.3 23.3C591.4 24.9 593.7 26.7 595.7 28.6C597.7 30.6 599.5 32.9 601.1 35.0C602.7 37.1 604.2 39.3 605.3 41.4C606.4 43.5 607.1 45.1 607.6 47.5C608.1 49.9 608.7 52.9 608.5 55.7C608.3 58.5 607.3 61.8 606.4 64.3C605.5 66.8 604.5 68.9 603.2 70.7C602.0 72.5 600.9 74.0 598.9 75.0C596.9 76.0 593.9 76.5 591.4 76.7C588.9 76.9 586.1 76.3 584.0 76.2C581.9 76.1 579.7 75.5 578.6 76.2C577.5 76.9 578.4 78.9 577.5 80.3C576.6 81.7 575.1 83.5 573.3 84.6C571.5 85.7 568.9 86.3 566.8 86.8C564.6 87.2 562.5 87.5 560.4 87.3C558.3 87.1 556.4 87.1 554.0 85.6C551.6 84.1 548.7 80.1 546.1 78.4C543.5 76.7 540.9 76.3 538.6 75.2C536.3 74.1 534.3 72.7 532.2 71.9C530.1 71.1 527.9 70.9 525.8 70.3C523.7 69.7 521.4 68.7 519.4 68.2C517.4 67.7 516.1 67.2 514.0 67.1C511.9 67.0 508.6 68.1 506.6 67.6C504.7 67.1 503.4 66.3 502.3 64.3C501.2 62.3 500.3 58.9 500.1 55.7Z" fill="none" stroke="#6e6e6e" stroke-width="0.9"/>
<circle cx="375.3" cy="43.6" r="4.7" fill="url(#sB)"/>
<circle cx="389.0" cy="35.0" r="4.7" fill="url(#sG)"/>
<circle cx="418.3" cy="19.5" r="4.7" fill="url(#sR)"/>
<circle cx="474.0" cy="51.9" r="4.7" fill="url(#sY)"/>
<circle cx="554.9" cy="18.8" r="4.7" fill="url(#sR)"/>
<circle cx="582.2" cy="36.3" r="4.7" fill="url(#sG)"/>
<circle cx="596.7" cy="44.5" r="4.7" fill="url(#sB)"/>
<circle cx="397.2" cy="110.9" r="4.9" fill="url(#sB)"/>
<text x="405.4" y="113.9" font-size="11.6">aDLPFC</text>
<circle cx="456.8" cy="110.9" r="4.9" fill="url(#sG)"/>
<text x="464.2" y="113.9" font-size="11.6">pDLPFC</text>
<circle cx="516.9" cy="110.9" r="4.9" fill="url(#sR)"/>
<text x="523.3" y="113.9" font-size="11.6">M1</text>
<circle cx="558.4" cy="110.9" r="4.9" fill="url(#sY)"/>
<text x="565.3" y="113.9" font-size="11.6">V1</text>
<text x="306.5" y="137.6" font-size="14.5" font-weight="bold">c</text>
<rect x="394.00" y="202.10" width="37.60" height="19.17" fill="#8abfdc"/>
<rect x="430.60" y="202.10" width="37.60" height="19.17" fill="#05305f"/>
<rect x="467.20" y="202.10" width="37.60" height="19.17" fill="#05305f"/>
<rect x="503.80" y="202.10" width="37.60" height="19.17" fill="#f5f6f8"/>
<rect x="540.40" y="202.10" width="37.60" height="19.17" fill="#2b77b5"/>
<rect x="577.00" y="202.10" width="37.60" height="19.17" fill="#f9b898"/>
<rect x="613.60" y="202.10" width="36.60" height="19.17" fill="#fcefe8"/>
<rect x="394.00" y="220.27" width="37.60" height="19.17" fill="#7ab6d6"/>
<rect x="430.60" y="220.27" width="37.60" height="19.17" fill="#2e81bd"/>
<rect x="467.20" y="220.27" width="37.60" height="19.17" fill="#2064a9"/>
<rect x="503.80" y="220.27" width="37.60" height="19.17" fill="#2e81bc"/>
<rect x="540.40" y="220.27" width="37.60" height="19.17" fill="#1f5ea6"/>
<rect x="577.00" y="220.27" width="37.60" height="19.17" fill="#4593c4"/>
<rect x="613.60" y="220.27" width="36.60" height="19.17" fill="#2165a9"/>
<rect x="394.00" y="238.44" width="37.60" height="19.17" fill="#91c4df"/>
<rect x="430.60" y="238.44" width="37.60" height="19.17" fill="#e6f0f6"/>
<rect x="467.20" y="238.44" width="37.60" height="19.17" fill="#7cb7d7"/>
<rect x="503.80" y="238.44" width="37.60" height="19.17" fill="#fddac6"/>
<rect x="540.40" y="238.44" width="37.60" height="19.17" fill="#5ba3cf"/>
<rect x="577.00" y="238.44" width="37.60" height="19.17" fill="#92c4de"/>
<rect x="613.60" y="238.44" width="36.60" height="19.17" fill="#1c5599"/>
<rect x="394.00" y="256.61" width="37.60" height="19.17" fill="#5ea3cf"/>
<rect x="430.60" y="256.61" width="37.60" height="19.17" fill="#246dae"/>
<rect x="467.20" y="256.61" width="37.60" height="19.17" fill="#6bafd4"/>
<rect x="503.80" y="256.61" width="37.60" height="19.17" fill="#4592c4"/>
<rect x="540.40" y="256.61" width="37.60" height="19.17" fill="#a6cfe3"/>
<rect x="577.00" y="256.61" width="37.60" height="19.17" fill="#0d3a73"/>
<rect x="613.60" y="256.61" width="36.60" height="19.17" fill="#4895c6"/>
<rect x="394.00" y="274.78" width="37.60" height="19.17" fill="#94c5df"/>
<rect x="430.60" y="274.78" width="37.60" height="19.17" fill="#154481"/>
<rect x="467.20" y="274.78" width="37.60" height="19.17" fill="#1f5ca3"/>
<rect x="503.80" y="274.78" width="37.60" height="19.17" fill="#800020"/>
<rect x="540.40" y="274.78" width="37.60" height="19.17" fill="#62a8d2"/>
<rect x="577.00" y="274.78" width="37.60" height="19.17" fill="#1e569b"/>
<rect x="613.60" y="274.78" width="36.60" height="19.17" fill="#7ab8d8"/>
<rect x="394.00" y="292.95" width="37.60" height="19.17" fill="#3f91c5"/>
<rect x="430.60" y="292.95" width="37.60" height="19.17" fill="#062c5e"/>
<rect x="467.20" y="292.95" width="37.60" height="19.17" fill="#92c5de"/>
<rect x="503.80" y="292.95" width="37.60" height="19.17" fill="#62a8d2"/>
<rect x="540.40" y="292.95" width="37.60" height="19.17" fill="#a7d0e4"/>
<rect x="577.00" y="292.95" width="37.60" height="19.17" fill="#1f5ea6"/>
<rect x="613.60" y="292.95" width="36.60" height="19.17" fill="#9ecbe1"/>
<rect x="394.00" y="311.12" width="37.60" height="19.17" fill="#0c3a73"/>
<rect x="430.60" y="311.12" width="37.60" height="19.17" fill="#1c5499"/>
<rect x="467.20" y="311.12" width="37.60" height="19.17" fill="#062c5f"/>
<rect x="503.80" y="311.12" width="37.60" height="19.17" fill="#fde2d4"/>
<rect x="540.40" y="311.12" width="37.60" height="19.17" fill="#68001f"/>
<rect x="577.00" y="311.12" width="37.60" height="19.17" fill="#3586c0"/>
<rect x="613.60" y="311.12" width="36.60" height="19.17" fill="#e9f1f8"/>
<rect x="394.00" y="329.29" width="37.60" height="19.17" fill="#062c5f"/>
<rect x="430.60" y="329.29" width="37.60" height="19.17" fill="#c5deec"/>
<rect x="467.20" y="329.29" width="37.60" height="19.17" fill="#124282"/>
<rect x="503.80" y="329.29" width="37.60" height="19.17" fill="#fddbc7"/>
<rect x="540.40" y="329.29" width="37.60" height="19.17" fill="#4896c6"/>
<rect x="577.00" y="329.29" width="37.60" height="19.17" fill="#2269ac"/>
<rect x="613.60" y="329.29" width="36.60" height="19.17" fill="#f4f6f8"/>
<rect x="394.00" y="347.46" width="37.60" height="19.17" fill="#4797c7"/>
<rect x="430.60" y="347.46" width="37.60" height="19.17" fill="#c5deec"/>
<rect x="467.20" y="347.46" width="37.60" height="19.17" fill="#1e569c"/>
<rect x="503.80" y="347.46" width="37.60" height="19.17" fill="#d5594a"/>
<rect x="540.40" y="347.46" width="37.60" height="19.17" fill="#ef8b6e"/>
<rect x="577.00" y="347.46" width="37.60" height="19.17" fill="#3383bf"/>
<rect x="613.60" y="347.46" width="36.60" height="19.17" fill="#2d7fbc"/>
<rect x="394.00" y="365.63" width="37.60" height="19.17" fill="#0b3a72"/>
<rect x="430.60" y="365.63" width="37.60" height="19.17" fill="#1c5499"/>
<rect x="467.20" y="365.63" width="37.60" height="19.17" fill="#1f5ca3"/>
<rect x="503.80" y="365.63" width="37.60" height="19.17" fill="#faf3ef"/>
<rect x="540.40" y="365.63" width="37.60" height="19.17" fill="#9dcae1"/>
<rect x="577.00" y="365.63" width="37.60" height="19.17" fill="#2063a8"/>
<rect x="613.60" y="365.63" width="36.60" height="19.17" fill="#fbefe8"/>
<rect x="394.00" y="383.80" width="37.60" height="19.17" fill="#062b5d"/>
<rect x="430.60" y="383.80" width="37.60" height="19.17" fill="#a20026"/>
<rect x="467.20" y="383.80" width="37.60" height="19.17" fill="#226bae"/>
<rect x="503.80" y="383.80" width="37.60" height="19.17" fill="#1c5396"/>
<rect x="540.40" y="383.80" width="37.60" height="19.17" fill="#6aacd4"/>
<rect x="577.00" y="383.80" width="37.60" height="19.17" fill="#134384"/>
<rect x="613.60" y="383.80" width="36.60" height="19.17" fill="#2b79b7"/>
<rect x="394.00" y="401.97" width="37.60" height="19.67" fill="#1e5499"/>
<rect x="430.60" y="401.97" width="37.60" height="19.67" fill="#e6f0f6"/>
<rect x="467.20" y="401.97" width="37.60" height="19.67" fill="#2670b2"/>
<rect x="503.80" y="401.97" width="37.60" height="19.67" fill="#2166ac"/>
<rect x="540.40" y="401.97" width="37.60" height="19.67" fill="#4895c6"/>
<rect x="577.00" y="401.97" width="37.60" height="19.67" fill="#072f60"/>
<rect x="613.60" y="401.97" width="36.60" height="19.67" fill="#2a77b6"/>
<path d="M650.2 202.1V420.1" stroke="#ccc" stroke-width="0.8"/>
<path d="M394.3 202.1V420.1" stroke="#6f7f8f" stroke-opacity="0.6" stroke-width="0.8"/>
<polygon points="520.60,281.27 521.28,283.03 523.17,283.13 521.69,284.32 522.19,286.15 520.60,285.12 519.01,286.15 519.51,284.32 518.03,283.13 519.92,283.03" fill="#000"/>
<polygon points="557.20,317.61 557.88,319.37 559.77,319.47 558.29,320.66 558.79,322.49 557.20,321.46 555.61,322.49 556.11,320.66 554.63,319.47 556.52,319.37" fill="#000"/>
<polygon points="447.40,390.29 448.08,392.05 449.97,392.15 448.49,393.34 448.99,395.17 447.40,394.13 445.81,395.17 446.31,393.34 444.83,392.15 446.72,392.05" fill="#000"/>
<text x="389.6" y="214.6" font-size="11.75" text-anchor="end">0–200 ms</text>
<text x="389.6" y="232.8" font-size="11.75" text-anchor="end">200–400 ms</text>
<text x="389.6" y="251.0" font-size="11.75" text-anchor="end">400–600 ms</text>
<text x="389.6" y="269.3" font-size="11.75" text-anchor="end">0–200 ms</text>
<text x="389.6" y="287.5" font-size="11.75" text-anchor="end">200–400 ms</text>
<text x="389.6" y="305.7" font-size="11.75" text-anchor="end">400–600 ms</text>
<text x="389.6" y="324.0" font-size="11.75" text-anchor="end">0–200 ms</text>
<text x="389.6" y="342.2" font-size="11.75" text-anchor="end">200–400 ms</text>
<text x="389.6" y="360.4" font-size="11.75" text-anchor="end">400–600 ms</text>
<text x="389.6" y="378.7" font-size="11.75" text-anchor="end">0–200 ms</text>
<text x="389.6" y="396.9" font-size="11.75" text-anchor="end">200–400 ms</text>
<text x="389.6" y="415.1" font-size="11.75" text-anchor="end">400–600 ms</text>
<text x="308.5" y="237.2" font-size="12.5" fill="#303030" font-family="Liberation Serif" font-style="italic" style="font-family:'Liberation Serif',serif">θ</text>
<text x="308.5" y="290.5" font-size="12.5" fill="#303030" font-family="Liberation Serif" font-style="italic" style="font-family:'Liberation Serif',serif">α</text>
<text x="308.5" y="345.6" font-size="12.5" fill="#303030" font-family="Liberation Serif" font-style="italic" style="font-family:'Liberation Serif',serif">β</text>
<text x="308.5" y="397.9" font-size="12.5" fill="#303030" font-family="Liberation Serif" font-style="italic" style="font-family:'Liberation Serif',serif">γ</text>
<path d="M308.6 256.6H392.9" stroke="#000" stroke-width="1.9"/>
<path d="M308.6 311.1H392.9" stroke="#000" stroke-width="1.9"/>
<path d="M308.6 365.6H392.9" stroke="#000" stroke-width="1.9"/>
<text transform="translate(411.7 196.8) rotate(-45)" font-size="11.2">aDLPFC</text>
<text transform="translate(448.1 196.8) rotate(-45)" font-size="11.2">pDLPFC</text>
<text transform="translate(483.0 196.8) rotate(-45)" font-size="11.2">M1</text>
<text transform="translate(521.0 196.8) rotate(-45)" font-size="11.2">aDLPFC</text>
<text transform="translate(557.5 196.8) rotate(-45)" font-size="11.2">pDLPFC</text>
<text transform="translate(592.3 196.8) rotate(-45)" font-size="11.2">M1</text>
<text transform="translate(630.1 196.0) rotate(-45)" font-size="11.2">V1</text>
<path d="M407.80 156.17 L408.53 155.84 L409.25 155.41 L409.98 154.98 L410.70 154.63 L411.43 154.33 L412.15 154.05 L412.88 153.77 L413.60 153.51 L414.33 153.29 L415.05 153.12 L415.78 152.98 L416.51 152.86 L417.23 152.73 L417.96 152.61 L418.68 152.49 L419.41 152.37 L420.13 152.27 L420.86 152.21 L421.58 152.19 L422.31 152.20 L423.03 152.22 L423.76 152.25 L424.48 152.27 L425.21 152.29 L425.94 152.32 L426.66 152.35 L427.39 152.38 L428.11 152.43 L428.84 152.48 L429.56 152.54 L430.29 152.60 L431.01 152.65 L431.74 152.71 L432.46 152.76 L433.19 152.82 L433.92 152.87 L434.64 152.92 L435.37 152.96 L436.09 152.98 L436.82 152.99 L437.54 152.99 L438.27 152.98 L438.99 152.97 L439.72 152.97 L440.44 152.96 L441.17 152.95 L441.89 152.92 L442.62 152.86 L443.35 152.78 L444.07 152.69 L444.80 152.60 L445.52 152.47 L446.25 152.29 L446.97 152.02 L447.70 151.65 L448.42 151.18 L449.15 150.60 L449.87 150.02 L450.60 149.56 L451.32 150.02 L452.04 150.60 L452.76 151.18 L453.47 151.65 L454.19 152.02 L454.91 152.29 L455.63 152.47 L456.35 152.60 L457.07 152.69 L457.79 152.78 L458.51 152.86 L459.22 152.92 L459.94 152.95 L460.66 152.96 L461.38 152.97 L462.10 152.97 L462.82 152.98 L463.54 152.99 L464.25 152.99 L464.97 152.98 L465.69 152.96 L466.41 152.92 L467.13 152.87 L467.85 152.82 L468.57 152.76 L469.28 152.71 L470.00 152.65 L470.72 152.60 L471.44 152.54 L472.16 152.48 L472.88 152.43 L473.60 152.38 L474.32 152.35 L475.03 152.32 L475.75 152.29 L476.47 152.27 L477.19 152.25 L477.91 152.22 L478.63 152.20 L479.35 152.19 L480.06 152.21 L480.78 152.27 L481.50 152.37 L482.22 152.49 L482.94 152.61 L483.66 152.73 L484.38 152.86 L485.09 152.98 L485.81 153.12 L486.53 153.29 L487.25 153.51 L487.97 153.77 L488.69 154.05 L489.41 154.33 L490.13 154.63 L490.84 154.98 L491.56 155.41 L492.28 155.84 L493.00 156.17 L493.00 156.72 L492.28 156.61 L491.56 156.47 L490.84 156.33 L490.13 156.21 L489.41 156.11 L488.69 156.02 L487.97 155.92 L487.25 155.84 L486.53 155.76 L485.81 155.69 L485.09 155.63 L484.38 155.57 L483.66 155.52 L482.94 155.46 L482.22 155.40 L481.50 155.35 L480.78 155.31 L480.06 155.28 L479.35 155.29 L478.63 155.30 L477.91 155.32 L477.19 155.35 L476.47 155.37 L475.75 155.39 L475.03 155.42 L474.32 155.44 L473.60 155.48 L472.88 155.52 L472.16 155.56 L471.44 155.61 L470.72 155.66 L470.00 155.70 L469.28 155.75 L468.57 155.80 L467.85 155.84 L467.13 155.89 L466.41 155.93 L465.69 155.96 L464.97 155.97 L464.25 155.97 L463.54 155.96 L462.82 155.94 L462.10 155.92 L461.38 155.90 L460.66 155.89 L459.94 155.86 L459.22 155.81 L458.51 155.71 L457.79 155.59 L457.07 155.45 L456.35 155.30 L455.63 155.12 L454.91 154.86 L454.19 154.49 L453.47 154.00 L452.76 153.40 L452.04 152.71 L451.32 152.03 L450.60 151.50 L449.87 152.03 L449.15 152.71 L448.42 153.40 L447.70 154.00 L446.97 154.49 L446.25 154.86 L445.52 155.12 L444.80 155.30 L444.07 155.45 L443.35 155.59 L442.62 155.71 L441.89 155.81 L441.17 155.86 L440.44 155.89 L439.72 155.90 L438.99 155.92 L438.27 155.94 L437.54 155.96 L436.82 155.97 L436.09 155.97 L435.37 155.96 L434.64 155.93 L433.92 155.89 L433.19 155.84 L432.46 155.80 L431.74 155.75 L431.01 155.70 L430.29 155.66 L429.56 155.61 L428.84 155.56 L428.11 155.52 L427.39 155.48 L426.66 155.44 L425.94 155.42 L425.21 155.39 L424.48 155.37 L423.76 155.35 L423.03 155.32 L422.31 155.30 L421.58 155.29 L420.86 155.28 L420.13 155.31 L419.41 155.35 L418.68 155.40 L417.96 155.46 L417.23 155.52 L416.51 155.57 L415.78 155.63 L415.05 155.69 L414.33 155.76 L413.60 155.84 L412.88 155.92 L412.15 156.02 L411.43 156.11 L410.70 156.21 L409.98 156.33 L409.25 156.47 L408.53 156.61 L407.80 156.72Z" fill="#000"/>
<path d="M516.00 156.17 L516.73 155.84 L517.46 155.41 L518.19 154.98 L518.92 154.63 L519.65 154.33 L520.38 154.05 L521.11 153.77 L521.84 153.51 L522.57 153.29 L523.31 153.12 L524.04 152.98 L524.77 152.86 L525.50 152.73 L526.23 152.61 L526.96 152.49 L527.69 152.37 L528.42 152.27 L529.15 152.21 L529.88 152.19 L530.61 152.20 L531.34 152.22 L532.07 152.25 L532.80 152.27 L533.53 152.29 L534.26 152.32 L534.99 152.35 L535.72 152.38 L536.45 152.43 L537.18 152.48 L537.92 152.54 L538.65 152.60 L539.38 152.65 L540.11 152.71 L540.84 152.76 L541.57 152.82 L542.30 152.87 L543.03 152.92 L543.76 152.96 L544.49 152.98 L545.22 152.99 L545.95 152.99 L546.68 152.98 L547.41 152.97 L548.14 152.97 L548.87 152.96 L549.60 152.95 L550.33 152.92 L551.06 152.86 L551.79 152.78 L552.53 152.69 L553.26 152.60 L553.99 152.47 L554.72 152.29 L555.45 152.02 L556.18 151.65 L556.91 151.18 L557.64 150.60 L558.37 150.02 L559.10 149.56 L559.83 150.02 L560.56 150.60 L561.30 151.18 L562.03 151.65 L562.76 152.02 L563.49 152.29 L564.23 152.47 L564.96 152.60 L565.69 152.69 L566.42 152.78 L567.15 152.86 L567.89 152.92 L568.62 152.95 L569.35 152.96 L570.08 152.97 L570.82 152.97 L571.55 152.98 L572.28 152.99 L573.01 152.99 L573.74 152.98 L574.48 152.96 L575.21 152.92 L575.94 152.87 L576.67 152.82 L577.41 152.76 L578.14 152.71 L578.87 152.65 L579.60 152.60 L580.33 152.54 L581.07 152.48 L581.80 152.43 L582.53 152.38 L583.26 152.35 L583.99 152.32 L584.73 152.29 L585.46 152.27 L586.19 152.25 L586.92 152.22 L587.66 152.20 L588.39 152.19 L589.12 152.21 L589.85 152.27 L590.58 152.37 L591.32 152.49 L592.05 152.61 L592.78 152.73 L593.51 152.86 L594.25 152.98 L594.98 153.12 L595.71 153.29 L596.44 153.51 L597.17 153.77 L597.91 154.05 L598.64 154.33 L599.37 154.63 L600.10 154.98 L600.84 155.41 L601.57 155.84 L602.30 156.17 L602.30 156.72 L601.57 156.61 L600.84 156.47 L600.10 156.33 L599.37 156.21 L598.64 156.11 L597.91 156.02 L597.17 155.92 L596.44 155.84 L595.71 155.76 L594.98 155.69 L594.25 155.63 L593.51 155.57 L592.78 155.52 L592.05 155.46 L591.32 155.40 L590.58 155.35 L589.85 155.31 L589.12 155.28 L588.39 155.29 L587.66 155.30 L586.92 155.32 L586.19 155.35 L585.46 155.37 L584.73 155.39 L583.99 155.42 L583.26 155.44 L582.53 155.48 L581.80 155.52 L581.07 155.56 L580.33 155.61 L579.60 155.66 L578.87 155.70 L578.14 155.75 L577.41 155.80 L576.67 155.84 L575.94 155.89 L575.21 155.93 L574.48 155.96 L573.74 155.97 L573.01 155.97 L572.28 155.96 L571.55 155.94 L570.82 155.92 L570.08 155.90 L569.35 155.89 L568.62 155.86 L567.89 155.81 L567.15 155.71 L566.42 155.59 L565.69 155.45 L564.96 155.30 L564.23 155.12 L563.49 154.86 L562.76 154.49 L562.03 154.00 L561.30 153.40 L560.56 152.71 L559.83 152.03 L559.10 151.50 L558.37 152.03 L557.64 152.71 L556.91 153.40 L556.18 154.00 L555.45 154.49 L554.72 154.86 L553.99 155.12 L553.26 155.30 L552.53 155.45 L551.79 155.59 L551.06 155.71 L550.33 155.81 L549.60 155.86 L548.87 155.89 L548.14 155.90 L547.41 155.92 L546.68 155.94 L545.95 155.96 L545.22 155.97 L544.49 155.97 L543.76 155.96 L543.03 155.93 L542.30 155.89 L541.57 155.84 L540.84 155.80 L540.11 155.75 L539.38 155.70 L538.65 155.66 L537.92 155.61 L537.18 155.56 L536.45 155.52 L535.72 155.48 L534.99 155.44 L534.26 155.42 L533.53 155.39 L532.80 155.37 L532.07 155.35 L531.34 155.32 L530.61 155.30 L529.88 155.29 L529.15 155.28 L528.42 155.31 L527.69 155.35 L526.96 155.40 L526.23 155.46 L525.50 155.52 L524.77 155.57 L524.04 155.63 L523.31 155.69 L522.57 155.76 L521.84 155.84 L521.11 155.92 L520.38 156.02 L519.65 156.11 L518.92 156.21 L518.19 156.33 L517.46 156.47 L516.73 156.61 L516.00 156.72Z" fill="#000"/>
<text x="450.7" y="143.9" font-size="11.3" text-anchor="middle">Left</text>
<text x="559.2" y="143.9" font-size="11.3" text-anchor="middle">Right</text>
<rect x="654.4" y="419.14" width="10.6" height="2.26" fill="#073467"/>
<rect x="654.4" y="415.68" width="10.6" height="3.86" fill="#0c3d73"/>
<rect x="654.4" y="412.22" width="10.6" height="3.86" fill="#10457f"/>
<rect x="654.4" y="408.76" width="10.6" height="3.86" fill="#154e8b"/>
<rect x="654.4" y="405.30" width="10.6" height="3.86" fill="#195797"/>
<rect x="654.4" y="401.84" width="10.6" height="3.86" fill="#1d5fa3"/>
<rect x="654.4" y="398.38" width="10.6" height="3.86" fill="#2267ad"/>
<rect x="654.4" y="394.92" width="10.6" height="3.86" fill="#286fb0"/>
<rect x="654.4" y="391.46" width="10.6" height="3.86" fill="#2d76b4"/>
<rect x="654.4" y="388.00" width="10.6" height="3.86" fill="#327db8"/>
<rect x="654.4" y="384.54" width="10.6" height="3.86" fill="#3884bb"/>
<rect x="654.4" y="381.08" width="10.6" height="3.86" fill="#3d8bbf"/>
<rect x="654.4" y="377.62" width="10.6" height="3.86" fill="#4392c3"/>
<rect x="654.4" y="374.16" width="10.6" height="3.86" fill="#4e9ac7"/>
<rect x="654.4" y="370.70" width="10.6" height="3.86" fill="#5ba2cb"/>
<rect x="654.4" y="367.24" width="10.6" height="3.86" fill="#68aacf"/>
<rect x="654.4" y="363.78" width="10.6" height="3.86" fill="#74b2d4"/>
<rect x="654.4" y="360.32" width="10.6" height="3.86" fill="#81bad8"/>
<rect x="654.4" y="356.86" width="10.6" height="3.86" fill="#8dc2dc"/>
<rect x="654.4" y="353.40" width="10.6" height="3.86" fill="#98c8e0"/>
<rect x="654.4" y="349.94" width="10.6" height="3.86" fill="#a2cde3"/>
<rect x="654.4" y="346.48" width="10.6" height="3.86" fill="#acd2e5"/>
<rect x="654.4" y="343.02" width="10.6" height="3.86" fill="#b6d7e8"/>
<rect x="654.4" y="339.56" width="10.6" height="3.86" fill="#c0dceb"/>
<rect x="654.4" y="336.10" width="10.6" height="3.86" fill="#cae2ee"/>
<rect x="654.4" y="332.64" width="10.6" height="3.86" fill="#d3e6f0"/>
<rect x="654.4" y="329.18" width="10.6" height="3.86" fill="#d9e9f1"/>
<rect x="654.4" y="325.72" width="10.6" height="3.86" fill="#dfecf3"/>
<rect x="654.4" y="322.26" width="10.6" height="3.86" fill="#e5eef4"/>
<rect x="654.4" y="318.80" width="10.6" height="3.86" fill="#ebf1f5"/>
<rect x="654.4" y="315.34" width="10.6" height="3.86" fill="#f1f4f6"/>
<rect x="654.4" y="311.89" width="10.6" height="3.86" fill="#f7f7f7"/>
<rect x="654.4" y="308.43" width="10.6" height="3.86" fill="#f8f2ef"/>
<rect x="654.4" y="304.97" width="10.6" height="3.86" fill="#f9eee8"/>
<rect x="654.4" y="301.51" width="10.6" height="3.86" fill="#faeae0"/>
<rect x="654.4" y="298.05" width="10.6" height="3.86" fill="#fbe5d8"/>
<rect x="654.4" y="294.59" width="10.6" height="3.86" fill="#fce1d1"/>
<rect x="654.4" y="291.13" width="10.6" height="3.86" fill="#fddcc9"/>
<rect x="654.4" y="287.67" width="10.6" height="3.86" fill="#fcd5bf"/>
<rect x="654.4" y="284.21" width="10.6" height="3.86" fill="#fbccb4"/>
<rect x="654.4" y="280.75" width="10.6" height="3.86" fill="#f9c4a9"/>
<rect x="654.4" y="277.29" width="10.6" height="3.86" fill="#f8bb9e"/>
<rect x="654.4" y="273.83" width="10.6" height="3.86" fill="#f6b293"/>
<rect x="654.4" y="270.37" width="10.6" height="3.86" fill="#f5aa88"/>
<rect x="654.4" y="266.91" width="10.6" height="3.86" fill="#f2a07e"/>
<rect x="654.4" y="263.45" width="10.6" height="3.86" fill="#ed9576"/>
<rect x="654.4" y="259.99" width="10.6" height="3.86" fill="#e88a6e"/>
<rect x="654.4" y="256.53" width="10.6" height="3.86" fill="#e47f65"/>
<rect x="654.4" y="253.07" width="10.6" height="3.86" fill="#df745d"/>
<rect x="654.4" y="249.61" width="10.6" height="3.86" fill="#da6954"/>
<rect x="654.4" y="246.15" width="10.6" height="3.86" fill="#d55e4c"/>
<rect x="654.4" y="242.69" width="10.6" height="3.86" fill="#cf5347"/>
<rect x="654.4" y="239.23" width="10.6" height="3.86" fill="#ca4841"/>
<rect x="654.4" y="235.77" width="10.6" height="3.86" fill="#c43c3c"/>
<rect x="654.4" y="232.31" width="10.6" height="3.86" fill="#be3137"/>
<rect x="654.4" y="228.85" width="10.6" height="3.86" fill="#b92531"/>
<rect x="654.4" y="225.39" width="10.6" height="3.86" fill="#b31a2c"/>
<rect x="654.4" y="221.93" width="10.6" height="3.86" fill="#a81529"/>
<rect x="654.4" y="218.47" width="10.6" height="3.86" fill="#9c1127"/>
<rect x="654.4" y="215.01" width="10.6" height="3.86" fill="#900d26"/>
<rect x="654.4" y="211.55" width="10.6" height="3.86" fill="#840924"/>
<rect x="654.4" y="208.09" width="10.6" height="3.86" fill="#780622"/>
<rect x="654.4" y="204.63" width="10.6" height="3.86" fill="#6c0220"/>
<rect x="654.4" y="201.90" width="10.6" height="3.13" fill="#67001f"/>
<rect x="654.4" y="201.9" width="10.6" height="219.1" fill="none" stroke="#999" stroke-width="0.6"/>
<path d="M663.0 386.3H665.0" stroke="#000" stroke-width="0.6"/>
<text x="668.9" y="390.6" font-size="11.4">0.5</text>
<path d="M663.0 350.0H665.0" stroke="#000" stroke-width="0.6"/>
<text x="668.9" y="354.3" font-size="11.4">1</text>
<path d="M663.0 313.7H665.0" stroke="#000" stroke-width="0.6"/>
<text x="668.9" y="318.0" font-size="11.4">1.5</text>
<path d="M663.0 277.4H665.0" stroke="#000" stroke-width="0.6"/>
<text x="668.9" y="281.7" font-size="11.4">2</text>
<path d="M663.0 241.1H665.0" stroke="#000" stroke-width="0.6"/>
<text x="668.9" y="245.4" font-size="11.4">2.5</text>
<path d="M663.0 204.8H665.0" stroke="#000" stroke-width="0.6"/>
<text x="668.9" y="209.1" font-size="11.4">3</text>
</svg></body></html>
